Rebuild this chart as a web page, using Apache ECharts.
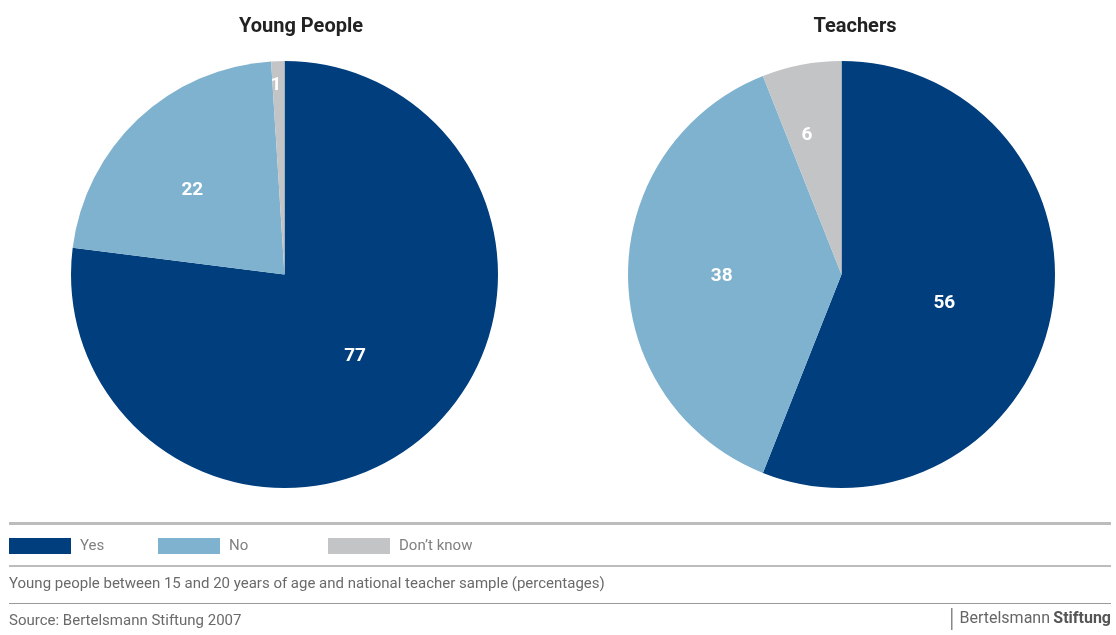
<!DOCTYPE html>
<html><head><meta charset="utf-8">
<script src="https://cdn.jsdelivr.net/npm/echarts@6/dist/echarts.min.js"></script>
<style>html,body{margin:0;padding:0;background:#fff}#c{width:1116px;height:635px}</style>
</head><body><div id="c"></div>
<script>
var categories = ['Yes', 'No', 'Don\u2019t know'];
var youngPeople = [77, 22, 1];
var teachers = [56, 38, 6];
var titles = ['Young People', 'Teachers'];
var note = 'Young people between 15 and 20 years of age and national teacher sample (percentages)';
var source = 'Source: Bertelsmann Stiftung 2007';

var colors = ['#003e7e', '#7fb2cf', '#c3c4c6'];
var FONT = "'Liberation Sans Narrow', 'Roboto', 'Noto Sans', sans-serif";
// label nudges (styling only)
var nudges = [
  [[-2,-1],[-17,-4],[-5,-80]],
  [[-5,8],[-10,2],[-14,-31]]
];

function makeData(vals){
  return vals.map(function(v,i){ return {name: categories[i], value: v}; });
}
function pie(vals, cx, idx){
  return {
    type: 'pie', center: [cx, 274.5], radius: [0, 213.5], startAngle: 90, clockwise: true,
    silent: true, animation: false,
    label: {show: true, position: 'inside', formatter: '{c}', color: '#fff', fontSize: 19, fontWeight: 'bold', fontFamily: FONT},
    labelLine: {show: false},
    itemStyle: {borderWidth: 0},
    labelLayout: function(p){ var n = nudges[idx][p.dataIndex]; return {dx: n[0], dy: n[1]}; },
    data: makeData(vals)
  };
}
function legend(i, left){
  return {
    left: left, top: 538, padding: 0, itemWidth: 62, itemHeight: 16, itemGap: 0, icon: 'rect',
    selectedMode: false, data: [categories[i]],
    textStyle: {color: '#808080', fontSize: 15, fontFamily: FONT, padding: [3,0,0,4]}
  };
}
var chart = echarts.init(document.getElementById('c'));
chart.setOption({
  color: colors,
  animation: false,
  title: [
    {text: titles[0], left: 296, top: 12, textAlign: 'center', textStyle: {fontSize: 20, fontWeight: 'bold', color: '#222', fontFamily: FONT}},
    {text: titles[1], left: 850, top: 12, textAlign: 'center', textStyle: {fontSize: 20, fontWeight: 'bold', color: '#222', fontFamily: FONT}}
  ],
  legend: [legend(0, 9), legend(1, 158), legend(2, 328)],
  series: [pie(youngPeople, 284.5, 0), pie(teachers, 841.5, 1)],
  graphic: [
    {type: 'rect', shape: {x: 9, y: 522, width: 1102, height: 3}, style: {fill: '#bcbcbc'}, silent: true},
    {type: 'rect', shape: {x: 9, y: 565, width: 1102, height: 2}, style: {fill: '#bcbcbc'}, silent: true},
    {type: 'rect', shape: {x: 9, y: 603, width: 1102, height: 1}, style: {fill: '#9a9a9a'}, silent: true},
    {type: 'text', left: 9, top: 577, style: {text: note, fill: '#6a6a6a', fontSize: 15, fontFamily: FONT}, silent: true},
    {type: 'text', left: 9, top: 614, style: {text: source, fill: '#6a6a6a', fontSize: 15, fontFamily: FONT}, silent: true},
    {type: 'rect', shape: {x: 951, y: 608, width: 1.5, height: 22}, style: {fill: '#888'}, silent: true},
    {type: 'text', right: 5, top: 611, style: {
      text: '{a|Bertelsmann}{b|\u2009Stiftung}',
      rich: {
        a: {fill: '#666', fontSize: 16, fontFamily: FONT},
        b: {fill: '#555', fontSize: 16, fontWeight: 'bold', fontFamily: FONT}
      }
    }, silent: true}
  ]
});
</script></body></html>
